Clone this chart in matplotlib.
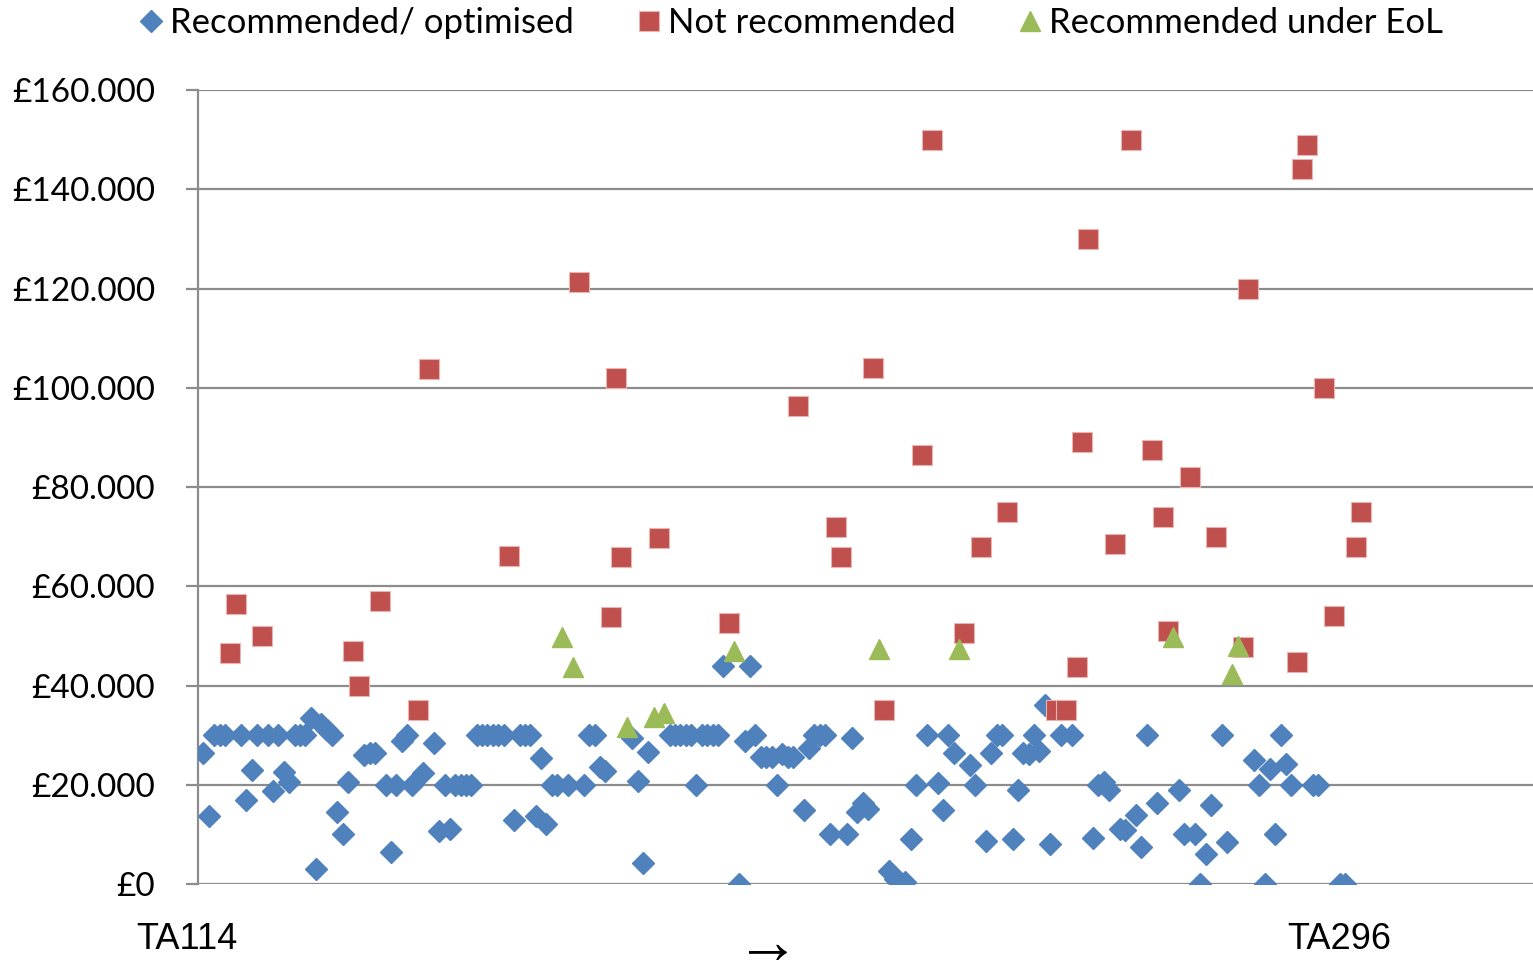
import matplotlib.pyplot as plt
from matplotlib.ticker import FuncFormatter, MultipleLocator

# Recommended/ optimised  (appraisal order index, cost per QALY)
rec_x = [1, 2, 3, 4, 5, 8, 9, 10, 11, 13, 14, 15, 16, 17, 18, 19, 20, 21, 22, 23,
         24, 25, 26, 27, 28, 31, 32, 33, 35, 36, 37, 38, 39, 40, 42, 44, 45, 46, 47, 48,
         49, 50, 51, 52, 53, 54, 55, 56, 57, 59, 60, 61, 62, 63, 64, 65, 66, 67, 69, 72,
         73, 74, 75, 76, 81, 82, 83, 84, 88, 89, 90, 91, 92, 93, 94, 95, 96, 97, 98, 101,
         102, 103, 104, 105, 106, 107, 108, 109, 110, 111, 113, 114, 115, 116, 117, 118, 121, 122, 123, 124,
         125, 129, 130, 131, 132, 133, 134, 136, 138, 139, 140, 141, 144, 145, 147, 148, 149, 150, 152, 153,
         154, 155, 156, 157, 158, 159, 161, 163, 167, 168, 169, 170, 172, 173, 175, 176, 177, 179, 183, 184,
         186, 187, 188, 189, 191, 192, 197, 198, 199, 200, 201, 202, 203, 204, 208, 209, 213, 214]
rec_y = [26500, 13700, 30000, 30000, 30000, 30000, 17000, 23000, 30000, 30000, 18800, 30000, 22600, 20600, 30000, 30000, 30000, 33500, 3000, 32300,
         31000, 30000, 14500, 10000, 20500, 26000, 26500, 26500, 20000, 6400, 20000, 28800, 30000, 20000, 22300, 28400, 10600, 20000, 11000, 20000,
         20000, 20000, 20000, 30000, 30000, 30000, 30000, 30000, 30000, 13000, 30000, 30000, 30000, 13800, 25300, 12000, 20000, 20000, 20000, 20000,
         30000, 30000, 23600, 22800, 29500, 20800, 4200, 26700, 30000, 30000, 30000, 30000, 30000, 20000, 30000, 30000, 30000, 30000, 44000, 0,
         28900, 44000, 30000, 25500, 25500, 25500, 20000, 26200, 25500, 25500, 15000, 27500, 30000, 30000, 30000, 10000, 10000, 29500, 14600, 16300,
         15100, 2600, 1100, 400, 400, 9000, 20000, 30000, 20300, 15000, 30000, 26500, 24000, 20000, 8600, 26500, 30000, 30000, 9100, 19000,
         26500, 26200, 30000, 26900, 36000, 8100, 30000, 30000, 9200, 20000, 20500, 19000, 11100, 10900, 14000, 7400, 30000, 16300, 19000, 10000,
         10000, 0, 6000, 16000, 30000, 8500, 25000, 20000, 0, 23200, 10000, 30000, 24200, 20000, 20000, 20000, 0, 0]

# Not recommended
not_x = [6, 7, 12, 29, 30, 34, 41, 43, 58, 71, 77, 78, 79, 86, 99, 112, 119, 120, 126, 128,
         135, 137, 143, 146, 151, 160, 162, 164, 165, 166, 171, 174, 178, 180, 181, 185, 190, 195, 196, 205,
         206, 207, 210, 212, 216, 217]
not_y = [46500, 56400, 50000, 46900, 40000, 57000, 35000, 103700, 66200, 121400, 53800, 102000, 66000, 69800, 52500, 96400, 72000, 66000, 104000, 35000,
         86500, 150000, 50500, 68000, 75000, 35000, 35000, 43800, 89000, 130000, 68600, 150000, 87500, 74000, 51000, 82000, 70000, 47700, 120000, 44800,
         144000, 149000, 100000, 54000, 68000, 75000]

# Recommended under EoL
eol_x = [68, 70, 80, 85, 87, 100, 127, 142, 182, 193, 194]
eol_y = [49700, 43700, 31700, 33700, 34400, 46900, 47400, 47400, 49700, 42300, 48000]

plt.rcParams['font.family'] = ['Lato', 'DejaVu Sans']

fig = plt.figure(figsize=(15.33, 9.61), dpi=100)
ax = fig.add_axes([0.1292, 0.0801, 0.8705, 0.8262])

ax.plot(rec_x, rec_y, linestyle='none', marker='D', markersize=11,
        color='#4F81BD', markeredgecolor='#4F81BD', label='Recommended/ optimised', zorder=3)
ax.plot(not_x, not_y, linestyle='none', marker='s', markersize=14.5,
        color='#C0504D', markeredgecolor='#E8B5B4', markeredgewidth=0.8,
        label='Not recommended', zorder=4)
ax.plot(eol_x, eol_y, linestyle='none', marker='^', markersize=14.5,
        color='#9BBB59', markeredgecolor='#9BBB59', label='Recommended under EoL', zorder=5)

ax.set_xlim(0, 249)
ax.set_ylim(0, 160000)
ax.yaxis.set_major_locator(MultipleLocator(20000))
ax.yaxis.set_major_formatter(FuncFormatter(lambda v, p: '£' + '{:,.0f}'.format(v).replace(',', '.') if v else '£0'))
ax.grid(axis='y', color='#8C8C8C', linewidth=1.6)
ax.set_axisbelow(True)
ax.set_xticks([])

for s in ['top', 'right', 'bottom']:
    ax.spines[s].set_visible(False)
ax.spines['left'].set_color('#8C8C8C')
ax.spines['left'].set_linewidth(1.6)
ax.tick_params(axis='y', length=9, width=1.6, color='#8C8C8C', labelsize=24, pad=22)

fig.text(0.0887, 0.022, 'TA114', fontsize=26, family='Liberation Sans', va='center', ha='left')
fig.text(0.8395, 0.022, 'TA296', fontsize=26, family='Liberation Sans', va='center', ha='left')
fig.text(0.5010, 0.0135, '→', fontsize=46, family='Liberation Serif', va='center', ha='center')

fig.legend(loc='center', bbox_to_anchor=(0.515, 0.976), ncol=3, frameon=False,
           fontsize=25, handletextpad=0.1, columnspacing=1.7, handlelength=0.9,
           borderaxespad=0)

fig.savefig('out.png', dpi=100)
